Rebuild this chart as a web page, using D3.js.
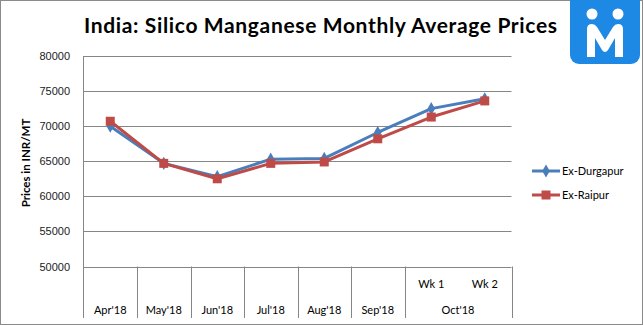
<!DOCTYPE html>
<html><head><meta charset="utf-8">
<script src="https://cdn.jsdelivr.net/npm/d3@7"></script>
<style>body{margin:0;background:#fff}svg{display:block}</style>
</head><body>
<script>
const categories = ["Apr'18","May'18","Jun'18","Jul'18","Aug'18","Sep'18","Wk 1","Wk 2"];
const groupLabels = [{label:"Oct'18", from:6, to:7}];
const durgapur = [70000,64700,62800,65300,65400,69100,72500,73900];
const raipur   = [70700,64700,62500,64700,64900,68200,71300,73600];
const yTicks = [50000,55000,60000,65000,70000,75000,80000];
const seriesNames = ["Ex-Durgapur","Ex-Raipur"];
const title = "India: Silico Manganese Monthly Average Prices";
const yTitle = "Prices in INR/MT";

const W=643,H=325;
const svg=d3.select("body").append("svg").attr("width",W).attr("height",H);
svg.append("rect").attr("x",0.5).attr("y",0.5).attr("width",W-1).attr("height",H-1).attr("fill","#fff").attr("stroke","#8a8a8a");

const L=83.5,R=511.5,T=56,B=266.5;
const x=d3.scaleBand().domain(categories).range([L,R]);
const y=d3.scaleLinear().domain([50000,80000]).range([B,T]);

// grid
svg.append("g").selectAll("line").data(yTicks).join("line")
 .attr("x1",L).attr("x2",R).attr("y1",d=>Math.round(y(d))+0.5).attr("y2",d=>Math.round(y(d))+0.5)
 .attr("stroke","#868686").attr("stroke-width",1);
// y axis line
svg.append("line").attr("x1",L).attr("x2",L).attr("y1",T).attr("y2",318).attr("stroke","#868686");
// y labels
svg.append("g").selectAll("text").data(yTicks).join("text")
 .attr("x",70).attr("y",d=>y(d)+4).attr("text-anchor","end")
 .attr("font-family","Liberation Sans, Arial, sans-serif").attr("font-size",11).attr("fill","#222")
 .text(d=>d);
// y title
svg.append("text").attr("transform","translate(30,163) rotate(-90)").attr("text-anchor","middle")
 .attr("font-family","Lato, sans-serif").attr("font-weight","bold").attr("font-size",11.5).attr("fill","#000").text(yTitle);

// category dividers
const inGroup=i=>groupLabels.some(g=>i>g.from && i<=g.to);
const divs=[];
categories.forEach((c,i)=>{ if(i>0 && !inGroup(i)) divs.push(x(c)); });
divs.push(R);
svg.append("g").selectAll("line").data(divs).join("line")
 .attr("x1",d=>Math.round(d)+0.5).attr("x2",d=>Math.round(d)+0.5).attr("y1",B).attr("y2",318)
 .attr("stroke","#868686");
const catFont="Lato, sans-serif";
categories.forEach((c,i)=>{
  const grouped=groupLabels.some(g=>i>=g.from && i<=g.to);
  svg.append("text").attr("x",x(c)+x.bandwidth()/2).attr("y",grouped?288:314)
   .attr("text-anchor","middle").attr("font-family",catFont).attr("font-size",11).attr("fill","#000").text(c);
});
groupLabels.forEach(g=>{
  const x0=x(categories[g.from]), x1=x(categories[g.to])+x.bandwidth();
  svg.append("text").attr("x",(x0+x1)/2).attr("y",314).attr("text-anchor","middle")
   .attr("font-family",catFont).attr("font-size",11).attr("fill","#000").text(g.label);
});

// lines
const cx=c=>x(c)+x.bandwidth()/2;
const line=d3.line().x((d,i)=>cx(categories[i])).y(d=>y(d));
const colors=["#4a7ebb","#be4b48"];
[durgapur,raipur].forEach((s,k)=>{
  svg.append("path").datum(s).attr("d",line).attr("fill","none").attr("stroke",colors[k]).attr("stroke-width",3).attr("stroke-linejoin","round");
});
const diamond=d3.symbol().type(d3.symbolDiamond).size(50);
svg.append("g").selectAll("path").data(durgapur).join("path")
 .attr("transform",(d,i)=>`translate(${cx(categories[i])},${y(d)})`).attr("d",diamond).attr("fill",colors[0]);
svg.append("g").selectAll("rect").data(raipur).join("rect")
 .attr("x",(d,i)=>cx(categories[i])-4.5).attr("y",d=>y(d)-4.5).attr("width",9).attr("height",9).attr("fill",colors[1]);

// legend
const lg=[{y:171},{y:195}];
seriesNames.forEach((n,k)=>{
  const yy=lg[k].y;
  svg.append("line").attr("x1",532).attr("x2",560).attr("y1",yy).attr("y2",yy).attr("stroke",colors[k]).attr("stroke-width",3);
  if(k===0) svg.append("path").attr("transform",`translate(546,${yy})`).attr("d",diamond).attr("fill",colors[0]);
  else svg.append("rect").attr("x",541.5).attr("y",yy-4.5).attr("width",9).attr("height",9).attr("fill",colors[1]);
  svg.append("text").attr("x",562).attr("y",yy+4).attr("font-family","Lato, sans-serif").attr("font-size",11).attr("fill","#000").text(n);
});

// title
svg.append("text").attr("x",84).attr("y",33)
 .attr("font-family","Lato, sans-serif").attr("font-weight","bold").attr("font-size",21)
 .attr("textLength",473).attr("lengthAdjust","spacing").attr("fill","#000").text(title);

// logo
const lgG=svg.append("g");
lgG.append("rect").attr("x",570).attr("y",-9).attr("width",70).attr("height",73).attr("rx",9).attr("fill","#1e88e5");
lgG.append("circle").attr("cx",592).attr("cy",14).attr("r",5.5).attr("fill","#fff");
lgG.append("circle").attr("cx",618).attr("cy",14).attr("r",5.5).attr("fill","#fff");
lgG.append("path").attr("d","M587,57 L587,29 Q587,24 592,24 Q595,24 597,27 L605,40 L613,27 Q615,24 618,24 Q623,24 623,29 L623,57 L615,57 L615,38 L608,50 Q605,54 602,50 L595,38 L595,57 Z").attr("fill","#fff");
</script>
</body></html>
